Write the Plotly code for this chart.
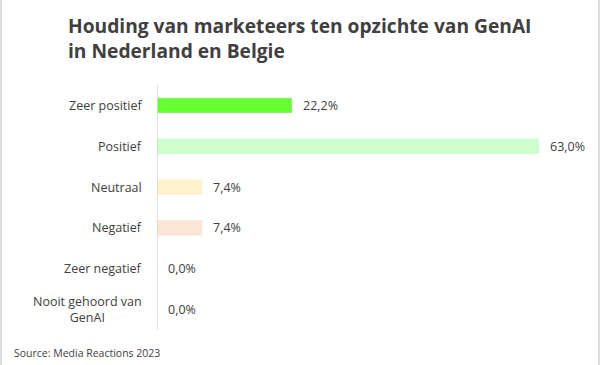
import plotly.graph_objects as go

categories = ["Zeer positief", "Positief", "Neutraal", "Negatief", "Zeer negatief", "Nooit gehoord van<br>GenAI"]
values = [22.2, 63.0, 7.4, 7.4, 0.0, 0.0]
colors = ["#66FF33", "#CCFFCC", "#FFF2CC", "#FBE5D6", "#FFFFFF", "#FFFFFF"]
line_colors = ["#8CF06A", "#CCFFCC", "#FFF2CC", "#FBE5D6", "#FFFFFF", "#FFFFFF"]
labels = [f"{v:.1f}%".replace(".", ",") for v in values]

W, H = 600, 365
ml, mr, mt, mb = 157, 40, 85, 35
xmax = 66.5
pw, ph = W - ml - mr, H - mt - mb

FONT = "'Open Sans', sans-serif"
TXT = "#404040"

fig = go.Figure()
fig.add_trace(go.Bar(
    y=categories, x=values, orientation="h",
    marker=dict(color=colors, line=dict(color=line_colors, width=1)),
    width=0.35, hoverinfo="skip",
))

def px_x(x):
    return (x - ml) / pw

def px_y(y):
    return (H - mb - y) / ph

ann = []
for c, v, lab in zip(categories, values, labels):
    ann.append(dict(x=v, y=c, xref="x", yref="y", text=lab, showarrow=False,
                    xanchor="left", xshift=9, font=dict(size=12.5, color=TXT, family=FONT)))
    ann.append(dict(x=0, y=c, xref="x", yref="y", text=c, showarrow=False,
                    xanchor="right", align="center", xshift=-13,
                    font=dict(size=12.5, color=TXT, family=FONT)))
ann.append(dict(x=px_x(12), y=px_y(353), xref="paper", yref="paper",
                text="Source: Media Reactions 2023", showarrow=False, xanchor="left", yanchor="middle",
                font=dict(size=10.5, color=TXT, family=FONT)))
ann.append(dict(x=px_x(66), y=px_y(10), xref="paper", yref="paper",
                text="<b>Houding van marketeers ten opzichte van GenAI<br>in Nederland en Belgie</b>",
                showarrow=False, xanchor="left", yanchor="top", align="left",
                font=dict(size=19.2, color=TXT, family=FONT)))

fig.update_layout(
    width=W, height=H,
    margin=dict(l=ml, r=mr, t=mt, b=mb),
    paper_bgcolor="white", plot_bgcolor="white",
    showlegend=False,
    xaxis=dict(range=[0, xmax], visible=False, fixedrange=True),
    yaxis=dict(categoryorder="array", categoryarray=categories, autorange="reversed",
               showticklabels=False, showgrid=False, zeroline=False, ticks="",
               showline=False, fixedrange=True),
    annotations=ann,
    shapes=[
        dict(type="line", xref="x", yref="paper", x0=0, x1=0, y0=0, y1=1,
             line=dict(color="#D9D9D9", width=1.5)),
        dict(type="line", xref="paper", yref="paper", x0=px_x(1), x1=px_x(1),
             y0=px_y(365), y1=px_y(0), line=dict(color="#DCDCDC", width=2)),
        dict(type="line", xref="paper", yref="paper", x0=px_x(599), x1=px_x(599),
             y0=px_y(365), y1=px_y(0), line=dict(color="#DCDCDC", width=2)),
    ],
)

fig.write_html("out.html", config={"displayModeBar": False},
               post_script="document.body.style.margin='0';document.body.style.overflow='hidden';")
